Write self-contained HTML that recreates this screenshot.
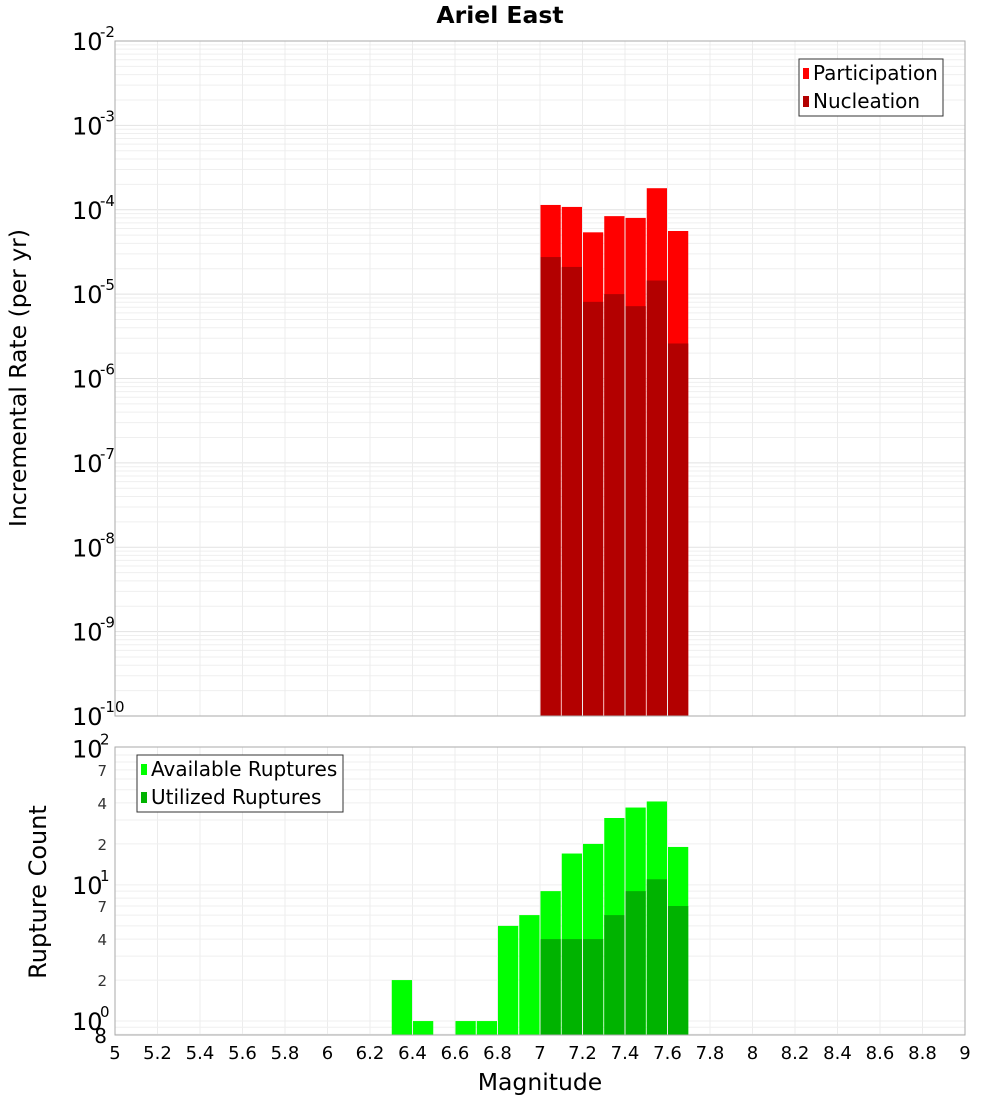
<!DOCTYPE html>
<html><head><meta charset="utf-8"><style>
body{margin:0;background:#fff;font-family:"Liberation Sans","DejaVu Sans",sans-serif;}
svg text{font-family:"DejaVu Sans","Liberation Sans",sans-serif;}
</style></head><body>
<svg id="chart" width="1000" height="1100" xmlns="http://www.w3.org/2000/svg"></svg>
<script>
const binCenters=[7.05,7.15,7.25,7.35,7.45,7.55,7.65];
const participation=[1.14e-4,1.08e-4,5.4e-5,8.4e-5,8.0e-5,1.8e-4,5.6e-5];
const nucleation=[2.75e-5,2.1e-5,8.1e-6,1.0e-5,7.2e-6,1.45e-5,2.6e-6];
const countCenters=[6.35,6.45,6.65,6.75,6.85,6.95,7.05,7.15,7.25,7.35,7.45,7.55,7.65];
const available=[2,1,1,1,5,6,9,17,20,31,37,41,19];
const utilCenters=[7.05,7.15,7.25,7.35,7.45,7.55,7.65];
const utilized=[4,4,4,6,9,11,7];
const xTicks=[5,5.2,5.4,5.6,5.8,6,6.2,6.4,6.6,6.8,7,7.2,7.4,7.6,7.8,8,8.2,8.4,8.6,8.8,9];
const topExps=[-2,-3,-4,-5,-6,-7,-8,-9,-10];
const botMinor=[2,4,7,20,40,70];

const svg=document.getElementById('chart');
const NS='http://www.w3.org/2000/svg';
function mk(tag,attrs,parent){const e=document.createElementNS(NS,tag);for(const k in attrs)e.setAttribute(k,attrs[k]);(parent||svg).appendChild(e);return e;}
const L=115,R=965,T1=41,B1=716,T2=747,B2=1035;
const x=v=>L+(v-5)/4*(R-L);
const y1=v=>T1+(-2-Math.log10(v))/8*(B1-T1);
const bLo=Math.log10(0.79),bHi=Math.log10(103);
const y2=v=>B2-(Math.log10(v)-bLo)/(bHi-bLo)*(B2-T2);
const bw=(R-L)/40;

let t=mk('text',{x:500,y:23,'text-anchor':'middle','font-size':23.5,'font-weight':'bold'});t.textContent='Ariel East';


for(const [T,B,nm] of [[T1,B1,'top-plot-area'],[T2,B2,'bottom-plot-area']]){
 const r=mk('rect',{x:L,y:T,width:R-L,height:B-T,fill:'#fff'});
 
}
for(let e=-10;e<-2;e++){for(let m=1;m<10;m++){const yy=y1(m*Math.pow(10,e));mk('line',{x1:L,x2:R,y1:yy,y2:yy,stroke:m==1?'#e2e2e2':'#efefef','stroke-width':1});}}
for(const v of xTicks){mk('line',{x1:x(v),x2:x(v),y1:T1,y2:B1,stroke:'#ececec'});mk('line',{x1:x(v),x2:x(v),y1:T2,y2:B2,stroke:'#ececec'});}
for(let e=-1;e<2;e++){for(let m=1;m<10;m++){const v=m*Math.pow(10,e);if(v<0.79)continue;const yy=y2(v);mk('line',{x1:L,x2:R,y1:yy,y2:yy,stroke:'#efefef'});}}

participation.forEach((v,i)=>{const r=mk('rect',{x:x(binCenters[i]-0.05)+0.5,y:y1(v),width:bw-1,height:B1-y1(v),fill:'#ff0000'});
 });
nucleation.forEach((v,i)=>{const r=mk('rect',{x:x(binCenters[i]-0.05)+0.5,y:y1(v),width:bw-1,height:B1-y1(v),fill:'#b30000'});
 });
available.forEach((v,i)=>{const r=mk('rect',{x:x(countCenters[i]-0.05)+0.5,y:y2(v),width:bw-1,height:B2-y2(v),fill:'#00ff00'});
 });
utilized.forEach((v,i)=>{const r=mk('rect',{x:x(utilCenters[i]-0.05)+0.5,y:y2(v),width:bw-1,height:B2-y2(v),fill:'#00b300'});
 });

mk('rect',{x:L,y:T1,width:R-L,height:B1-T1,fill:'none',stroke:'#aaa'});
mk('rect',{x:L,y:T2,width:R-L,height:B2-T2,fill:'none',stroke:'#aaa'});

topExps.forEach(e=>{const yy=y1(Math.pow(10,e));
 const g=mk('text',{x:72,y:yy+9,'font-size':24});g.textContent='10';
 
 const s=mk('text',{x:100,y:yy-4,'font-size':15});s.textContent=String(e);});
[[100,'2'],[10,'1'],[1,'0']].forEach(([v,e])=>{const yy=y2(v);
 const g=mk('text',{x:72,y:yy+9,'font-size':24});g.textContent='10';
 
 const s=mk('text',{x:100,y:yy-4,'font-size':15});s.textContent=e;});
botMinor.forEach(v=>{const tt=mk('text',{x:107,y:y2(v)+6,'font-size':15,'text-anchor':'end',fill:'#333'});tt.textContent=String(v).charAt(0);});
{const tt=mk('text',{x:107,y:B2+8,'font-size':20,'text-anchor':'end'});tt.textContent='8';}

xTicks.forEach(v=>{const tt=mk('text',{x:x(v),y:1059,'font-size':18,'text-anchor':'middle'});tt.textContent=String(v);
 });
t=mk('text',{x:540,y:1090,'font-size':23.5,'text-anchor':'middle'});t.textContent='Magnitude';

t=mk('text',{x:26,y:378,'font-size':23.5,'text-anchor':'middle',transform:'rotate(-90 26 378)'});t.textContent='Incremental Rate (per yr)';

t=mk('text',{x:46,y:892,'font-size':24,'text-anchor':'middle',transform:'rotate(-90 46 892)'});t.textContent='Rupture Count';


function legend(x0,y0,w,items,name){
 const g=mk('g',{});
 mk('rect',{x:x0,y:y0,width:w,height:57,fill:'#fff',stroke:'#333'},g);
 items.forEach(([c,lab],i)=>{mk('rect',{x:x0+4,y:y0+9+i*28,width:6,height:11,fill:c},g);
  const tt=mk('text',{x:x0+14,y:y0+21+i*28,'font-size':20},g);tt.textContent=lab;
  });
}
legend(799,59,144,[['#ff0000','Participation'],['#b30000','Nucleation']],'legend-top');
legend(137,755,206,[['#00ff00','Available Ruptures'],['#00b300','Utilized Ruptures']],'legend-bottom');
</script>
</body></html>
